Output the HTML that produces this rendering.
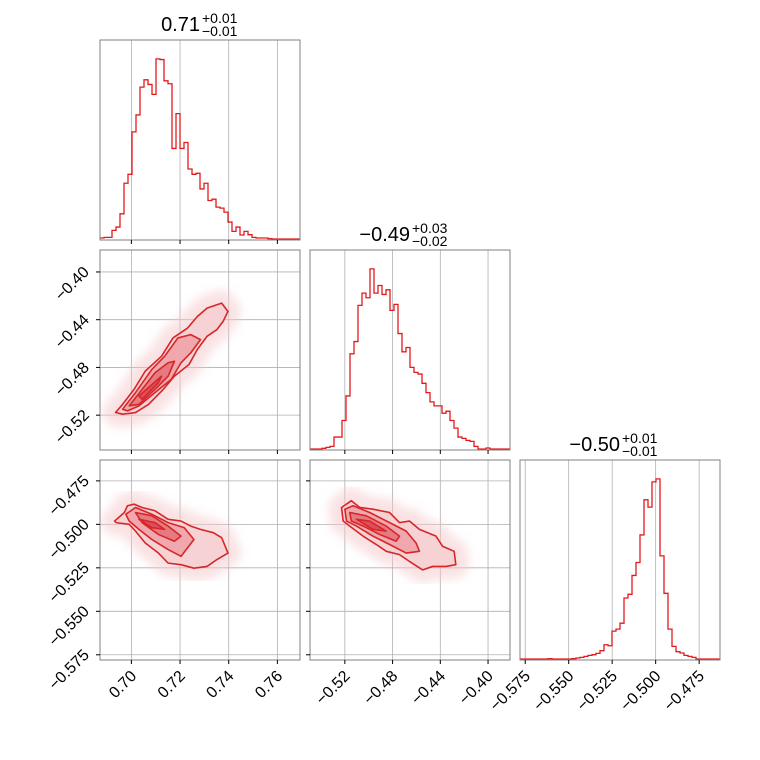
<!DOCTYPE html>
<html><head><meta charset="utf-8"><style>
body{margin:0;background:#fff;}
svg{display:block;font-family:"Liberation Sans","DejaVu Sans",sans-serif;}
</style></head><body>
<svg id="chart" width="760" height="760" viewBox="0 0 760 760" xmlns="http://www.w3.org/2000/svg">
<defs><filter id="blur" x="-20%" y="-20%" width="140%" height="140%"><feGaussianBlur stdDeviation="5"/></filter></defs>
</svg>
<script>
// ---- data ----
const paramNames = ["p0","p1","p2"];
const ranges = [[0.6871,0.7693],[-0.5492,-0.3816],[-0.5780,-0.4630]];
const ticks0 = [0.70,0.72,0.74,0.76];
const ticks1 = [-0.52,-0.48,-0.44,-0.40];
const ticks2 = [-0.575,-0.550,-0.525,-0.500,-0.475];
const tickLabels0 = ["0.70","0.72","0.74","0.76"];
const tickLabels1 = ["\u22120.52","\u22120.48","\u22120.44","\u22120.40"];
const tickLabels2 = ["\u22120.575","\u22120.550","\u22120.525","\u22120.500","\u22120.475"];
const hist0 = [3,5,5,26,36,76,168,195,323,374,458,480,466,436,543,541,477,468,273,378,273,291,211,195,198,151,168,116,120,96,93,81,51,23,36,12,23,13,5,3,3,3,1,0,0,0,0,0,0,0];
const hist1 = [0,0,0,2,5,8,36,36,86,160,287,324,433,470,456,543,470,493,466,480,418,436,348,293,306,246,231,226,198,170,142,130,130,108,114,86,63,36,32,26,23,8,0,0,3,0,0,0,0,0];
const hist2 = [0,0,0,0,0,0,0,1,0,0,0,0,0,1,3,5,8,11,13,17,25,43,40,84,90,108,184,195,252,291,374,480,458,534,543,311,198,90,38,22,18,11,8,5,0,0,0,0,0,0];
const titleMain = ["0.71","\u22120.49","\u22120.50"];
const titlePlus = ["+0.01","+0.03","+0.01"];
const titleMinus = ["\u22120.01","\u22120.02","\u22120.01"];
const c10_outer = [[0.6935,-0.5178],[0.6964,-0.5109],[0.7011,-0.4984],[0.7057,-0.4831],[0.7124,-0.4706],[0.7171,-0.4553],[0.7231,-0.4470],[0.7271,-0.4373],[0.7311,-0.4303],[0.7371,-0.4261],[0.7397,-0.4331],[0.7377,-0.4414],[0.7351,-0.4484],[0.7311,-0.4539],[0.7271,-0.4650],[0.7237,-0.4775],[0.7177,-0.4873],[0.7131,-0.4984],[0.7071,-0.5109],[0.7017,-0.5178],[0.6964,-0.5192]];
const c10_mid = [[0.6964,-0.5150],[0.7017,-0.5011],[0.7084,-0.4817],[0.7137,-0.4706],[0.7191,-0.4553],[0.7244,-0.4525],[0.7284,-0.4567],[0.7244,-0.4678],[0.7204,-0.4761],[0.7164,-0.4900],[0.7097,-0.5011],[0.7031,-0.5122],[0.6984,-0.5164]];
const c10_in = [[0.6991,-0.5122],[0.7044,-0.4984],[0.7097,-0.4845],[0.7151,-0.4761],[0.7177,-0.4748],[0.7151,-0.4873],[0.7097,-0.4984],[0.7031,-0.5109]];
const c10_core = [[0.7031,-0.5039],[0.7124,-0.4873],[0.7111,-0.4928],[0.7044,-0.5067]];
const c20_outer = [[0.6931,-0.4981],[0.6971,-0.4932],[0.6984,-0.4893],[0.7011,-0.4884],[0.7044,-0.4903],[0.7097,-0.4922],[0.7151,-0.4971],[0.7204,-0.4981],[0.7244,-0.5010],[0.7284,-0.5029],[0.7337,-0.5048],[0.7371,-0.5077],[0.7397,-0.5165],[0.7351,-0.5203],[0.7311,-0.5242],[0.7257,-0.5252],[0.7204,-0.5232],[0.7151,-0.5223],[0.7111,-0.5165],[0.7057,-0.5107],[0.7017,-0.5039],[0.6991,-0.5000],[0.6937,-0.4990]];
const c20_mid = [[0.6977,-0.4942],[0.7017,-0.4903],[0.7084,-0.4942],[0.7151,-0.4990],[0.7217,-0.5019],[0.7257,-0.5087],[0.7204,-0.5184],[0.7151,-0.5145],[0.7084,-0.5087],[0.7031,-0.5029],[0.6991,-0.4981]];
const c20_in = [[0.7017,-0.4932],[0.7084,-0.4951],[0.7151,-0.5010],[0.7204,-0.5068],[0.7177,-0.5097],[0.7111,-0.5058],[0.7044,-0.4990]];
const c20_core = [[0.7031,-0.4971],[0.7097,-0.4990],[0.7137,-0.5029],[0.7084,-0.5019]];
const c21_outer = [[-0.5228,-0.4903],[-0.5145,-0.4864],[-0.5075,-0.4903],[-0.4964,-0.4913],[-0.4825,-0.4932],[-0.4742,-0.4990],[-0.4659,-0.4981],[-0.4575,-0.5029],[-0.4436,-0.5068],[-0.4381,-0.5126],[-0.4284,-0.5155],[-0.4270,-0.5232],[-0.4353,-0.5242],[-0.4464,-0.5242],[-0.4548,-0.5262],[-0.4659,-0.5213],[-0.4742,-0.5174],[-0.4853,-0.5155],[-0.4936,-0.5116],[-0.5047,-0.5068],[-0.5159,-0.5010],[-0.5214,-0.4981]];
const c21_mid = [[-0.5200,-0.4913],[-0.5131,-0.4893],[-0.4992,-0.4932],[-0.4825,-0.4990],[-0.4686,-0.5039],[-0.4603,-0.5107],[-0.4575,-0.5155],[-0.4686,-0.5165],[-0.4825,-0.5116],[-0.4964,-0.5068],[-0.5103,-0.5010],[-0.5186,-0.4981]];
const c21_in = [[-0.5159,-0.4932],[-0.5020,-0.4951],[-0.4853,-0.5010],[-0.4742,-0.5068],[-0.4770,-0.5097],[-0.4909,-0.5058],[-0.5047,-0.5010],[-0.5145,-0.4981]];
const c21_core = [[-0.5103,-0.4971],[-0.4992,-0.4981],[-0.4853,-0.5039],[-0.4964,-0.5029]];

const tickSets = [ticks0,ticks1,ticks2];
const labelSets = [tickLabels0,tickLabels1,tickLabels2];
const hists = [hist0,hist1,hist2];
const contours = {"1-0":[c10_outer,c10_mid,c10_in,c10_core],"2-0":[c20_outer,c20_mid,c20_in,c20_core],"2-1":[c21_outer,c21_mid,c21_in,c21_core]};

// ---- drawing ----
const svg = document.getElementById('chart');
const NS = "http://www.w3.org/2000/svg";
const L = 100, T = 40, S = 200, G = 10;
function mk(tag, attrs, parent){const e=document.createElementNS(NS,tag);for(const k in attrs)e.setAttribute(k,attrs[k]);(parent||svg).appendChild(e);return e;}
function px(col,v){const r=ranges[col];return L+col*(S+G)+(v-r[0])/(r[1]-r[0])*S;}
function py(row,v){const r=ranges[row];return T+row*(S+G)+S-(v-r[0])/(r[1]-r[0])*S;}
const RED = "#e31a1c", CRED = "#d62728";

for(let row=0;row<3;row++){
  for(let col=0;col<=row;col++){
    const x0=L+col*(S+G), y0=T+row*(S+G);
    const g=mk('g',{});
    
    
    const cp=mk('clipPath',{id:'cp'+row+col},g);
    mk('rect',{x:x0,y:y0,width:S,height:S},cp);
    tickSets[col].forEach(t=>{const gl=mk('line',{x1:px(col,t),x2:px(col,t),y1:y0,y2:y0+S,stroke:'#b0b0b0','stroke-width':0.8},g);
      });
    if(row!==col) tickSets[row].forEach(t=>{const gl=mk('line',{x1:x0,x2:x0+S,y1:py(row,t),y2:py(row,t),stroke:'#b0b0b0','stroke-width':0.8},g);
      });
    const inner=mk('g',{'clip-path':'url(#cp'+row+col+')'},g);
    if(row===col){
      const h=hists[col], n=h.length, mx=Math.max(...h)*1.105, r=ranges[col];
      const bw=(r[1]-r[0])/n;
      let d='';
      h.forEach((c,i)=>{const xa=px(col,r[0]+i*bw),xb=px(col,r[0]+(i+1)*bw),yy=y0+S-1-c/mx*(S-1);
        d+=(i===0?'M':'L')+xa+','+yy+'L'+xb+','+yy;});
      const p=mk('path',{d:d,fill:'none',stroke:RED,'stroke-width':1.3},inner);
      
      
    } else {
      const cs=contours[row+'-'+col];
      const toPts=arr=>arr.map(p=>px(col,p[0])+','+py(row,p[1])).join(' ');
      const cloud=mk('polygon',{points:toPts(cs[0]),fill:'#f4c4c8',stroke:'#f4c4c8','stroke-width':26,'stroke-linejoin':'round',opacity:0.5,filter:'url(#blur)'},inner);
      
      
      const fills=['#f7d2d5','#f0a8ae','#e67a83','#dc4e58'];
      cs.forEach((c,k)=>{const pg=mk('polygon',{points:toPts(c),fill:fills[k],stroke:CRED,'stroke-width':1.6,'stroke-linejoin':'round'},inner);
        
        });
    }
    const fr=mk('rect',{x:x0,y:y0,width:S,height:S,fill:'none',stroke:'#808080','stroke-width':1},g);
    
    
    tickSets[col].forEach(t=>{const tk=mk('line',{x1:px(col,t),x2:px(col,t),y1:y0+S,y2:y0+S+4,stroke:'#000','stroke-width':1},g);
      });
    if(row!==col) tickSets[row].forEach(t=>{const tk=mk('line',{x1:x0-4,x2:x0,y1:py(row,t),y2:py(row,t),stroke:'#000','stroke-width':1},g);
      });
    if(row===2) tickSets[col].forEach((t,i)=>{const xx=px(col,t)+6, yy=y0+S+17;
      const tx=mk('text',{x:xx,y:yy,'font-size':16,'text-anchor':'end',transform:'rotate(-45 '+xx+' '+yy+')'},g);
      tx.textContent=labelSets[col][i];
      });
    if(col===0 && row>0) tickSets[row].forEach((t,i)=>{const xx=x0-10, yy=py(row,t)+1;
      const tx=mk('text',{x:xx,y:yy,'font-size':16,'text-anchor':'end',transform:'rotate(-45 '+xx+' '+yy+')'},g);
      tx.textContent=labelSets[row][i];
      });
  }
  const cx=L+row*(S+G)+S/2, ty=T+row*(S+G)-9;
  const tg=mk('g',{});
  
  
  const tm=mk('text',{x:cx,y:ty,'font-size':20,'text-anchor':'end'},tg);
  tm.textContent=titleMain[row];
  const tp=mk('text',{x:cx+2,y:ty-8,'font-size':14},tg);
  tp.textContent=titlePlus[row];
  const tn=mk('text',{x:cx+2,y:ty+5,'font-size':14},tg);
  tn.textContent=titleMinus[row];
}
</script>
</body></html>
